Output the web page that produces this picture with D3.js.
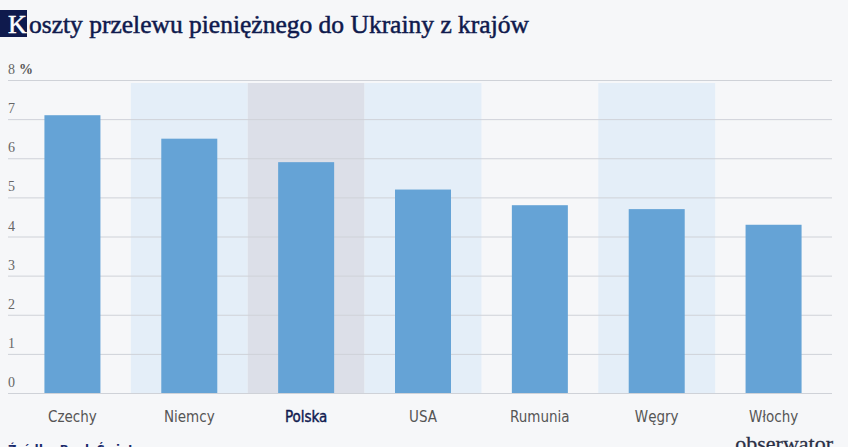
<!DOCTYPE html>
<html><head><meta charset="utf-8">
<script src="https://cdn.jsdelivr.net/npm/d3@7"></script>
<style>
html,body{margin:0;padding:0;background:#f6f7f9;}
svg{display:block;}
.cond{font-stretch:condensed;}
</style></head>
<body>
<svg id="c" width="848" height="447"></svg>
<script>
const categories = ["Czechy","Niemcy","Polska","USA","Rumunia","Węgry","Włochy"];
const values = [7.1, 6.5, 5.9, 5.2, 4.8, 4.7, 4.3];
const highlighted = ["Niemcy","USA","Węgry"];
const focus = "Polska";
const yTicks = [0,1,2,3,4,5,6,7,8];
const title = "oszty przelewu pieniężnego do Ukrainy z krajów";
const titleInitial = "K";
const source = "Źródło: Bank Światowy";
const brand = "obserwator";

const svg = d3.select("#c");
svg.append("rect").attr("width",848).attr("height",447).attr("fill","#f6f7f9");

const x = d3.scaleBand().domain(categories).range([14, 832]).paddingInner(0).paddingOuter(0);
const y = d3.scaleLinear().domain([0,8]).range([393, 80]);

// background bands
svg.append("g").selectAll("rect").data(categories.filter(c => highlighted.includes(c) || c === focus))
  .join("rect")
  .attr("x", d => x(d))
  .attr("width", x.bandwidth())
  .attr("y", y(8) + 3)
  .attr("height", y(0) - y(8) - 3)
  .attr("fill", d => d === focus ? "#dcdfe8" : "#e4eef8");

// grid
const ga = svg.append("g").attr("transform","translate(832,0)")
  .call(d3.axisRight(y).tickValues(yTicks).tickSize(-824).tickFormat(""));
ga.select(".domain").remove();
ga.selectAll(".tick line").attr("stroke","#cfd2d8").attr("stroke-width",1);

// tick labels
svg.append("g").selectAll("text").data(yTicks).join("text")
  .attr("x", 8).attr("y", d => y(d) - 6)
  .attr("font-family","Liberation Serif, DejaVu Serif, serif")
  .attr("font-size", 14).attr("fill","#666")
  .text(d => d)
  .each(function(d){ if(d===8){ d3.select(this).append("tspan").attr("dx",4).attr("font-weight","bold").attr("fill","#555").text("%"); } });

// bars
const bw = 56;
svg.append("g").selectAll("rect").data(categories).join("rect")
  .attr("x", d => x(d) + x.bandwidth()/2 - bw/2)
  .attr("width", bw)
  .attr("y", (d,i) => y(values[i]))
  .attr("height", (d,i) => y(0) - y(values[i]))
  .attr("fill","#65a3d6");

// x axis labels
const xa = svg.append("g").attr("transform","translate(0,393)")
  .call(d3.axisBottom(x).tickSize(0).tickPadding(0));
xa.select(".domain").remove();
xa.selectAll(".tick text")
  .attr("y", 18)
  .attr("class","cond")
  .attr("font-family","DejaVu Sans, sans-serif")
  .attr("font-size", 15)
  .attr("fill", d => d === focus ? "#101a50" : "#555")
  .attr("stroke", d => d === focus ? "#101a50" : "none")
  .attr("stroke-width", 0.4);

// title
svg.append("rect").attr("x",0).attr("y",10).attr("width",27).attr("height",27).attr("fill","#0f1a4d");
svg.append("text").attr("x",8).attr("y",33)
  .attr("font-family","Liberation Serif, DejaVu Serif, serif").attr("font-size",26)
  .attr("fill","#fff").attr("stroke","#fff").attr("stroke-width",0.5).text(titleInitial);
svg.append("text").attr("x",29).attr("y",33)
  .attr("font-family","Liberation Serif, DejaVu Serif, serif").attr("font-size",25.5)
  .attr("fill","#0f1a4d").attr("stroke","#0f1a4d").attr("stroke-width",0.5).text(title);

// footer
svg.append("text").attr("x",8).attr("y",454)
  .attr("class","cond")
  .attr("font-family","DejaVu Sans, sans-serif")
  .attr("font-size",13).attr("font-weight","bold").attr("fill","#1a2a6b").text(source);
svg.append("text").attr("x",833).attr("y",451).attr("text-anchor","end")
  .attr("font-family","Liberation Serif, DejaVu Serif, serif")
  .attr("font-size",22).attr("fill","#2a2f45").attr("stroke","#2a2f45").attr("stroke-width",0.3).text(brand);
</script>
</body></html>
